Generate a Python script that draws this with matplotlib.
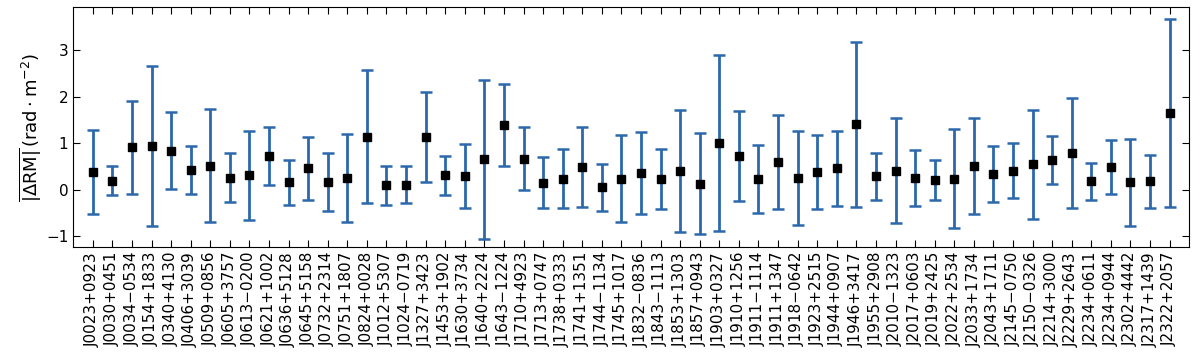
import numpy as np
import matplotlib
matplotlib.use("Agg")
from matplotlib import pyplot as plt

pulsars = [
    "J0023+0923", "J0030+0451", "J0034\u22120534", "J0154+1833", "J0340+4130",
    "J0406+3039", "J0509+0856", "J0605+3757", "J0613\u22120200", "J0621+1002",
    "J0636+5128", "J0645+5158", "J0732+2314", "J0751+1807", "J0824+0028",
    "J1012+5307", "J1024\u22120719", "J1327+3423", "J1453+1902", "J1630+3734",
    "J1640+2224", "J1643\u22121224", "J1710+4923", "J1713+0747", "J1738+0333",
    "J1741+1351", "J1744\u22121134", "J1745+1017", "J1832\u22120836", "J1843\u22121113",
    "J1853+1303", "J1857+0943", "J1903+0327", "J1910+1256", "J1911\u22121114",
    "J1911+1347", "J1918\u22120642", "J1923+2515", "J1944+0907", "J1946+3417",
    "J1955+2908", "J2010\u22121323", "J2017+0603", "J2019+2425", "J2022+2534",
    "J2033+1734", "J2043+1711", "J2145\u22120750", "J2150\u22120326", "J2214+3000",
    "J2229+2643", "J2234+0611", "J2234+0944", "J2302+4442", "J2317+1439",
    "J2322+2057",
]

mean_drm = [
    0.38, 0.19, 0.91, 0.94, 0.84, 0.42, 0.52, 0.26, 0.31, 0.72,
    0.16, 0.46, 0.16, 0.25, 1.14, 0.10, 0.11, 1.13, 0.31, 0.29,
    0.65, 1.39, 0.67, 0.15, 0.24, 0.49, 0.05, 0.24, 0.36, 0.23,
    0.41, 0.13, 1.00, 0.73, 0.24, 0.59, 0.25, 0.38, 0.46, 1.41,
    0.29, 0.41, 0.26, 0.20, 0.24, 0.50, 0.34, 0.41, 0.55, 0.64,
    0.79, 0.18, 0.48, 0.16, 0.18, 1.65,
]

drm_err = [
    0.90, 0.31, 1.00, 1.72, 0.82, 0.51, 1.22, 0.53, 0.95, 0.62,
    0.48, 0.67, 0.62, 0.95, 1.43, 0.42, 0.39, 0.97, 0.42, 0.69,
    1.70, 0.89, 0.68, 0.55, 0.64, 0.86, 0.51, 0.94, 0.89, 0.65,
    1.31, 1.09, 1.89, 0.97, 0.73, 1.01, 1.01, 0.80, 0.80, 1.77,
    0.50, 1.13, 0.60, 0.43, 1.06, 1.03, 0.60, 0.59, 1.17, 0.52,
    1.18, 0.40, 0.58, 0.94, 0.57, 2.02,
]

x = np.arange(len(pulsars))

fig = plt.figure(figsize=(12, 3.57), dpi=100)
ax = fig.add_axes([0.061, 0.308, 0.930, 0.672])

ax.errorbar(x, mean_drm, yerr=drm_err, fmt="none", ecolor="#2c68ab",
            elinewidth=2, capsize=4, capthick=1.8, zorder=1)
ax.plot(x, mean_drm, "s", color="black", markersize=6, zorder=2)

ax.set_xlim(-1, len(pulsars))
ax.set_ylim(-1.23, 3.92)
ax.set_xticks(x)
ax.set_xticklabels(pulsars, rotation=90, fontsize=11)
ax.set_yticks([-1, 0, 1, 2, 3])
ax.tick_params(axis="both", direction="in", top=True, right=True,
               labelsize=11, length=5)
ax.set_ylabel(r"$\overline{|\Delta\mathrm{RM}|}\,(\mathrm{rad}\cdot\mathrm{m}^{-2})$",
              fontsize=13, labelpad=2)

fig.savefig("out.png", dpi=100)
